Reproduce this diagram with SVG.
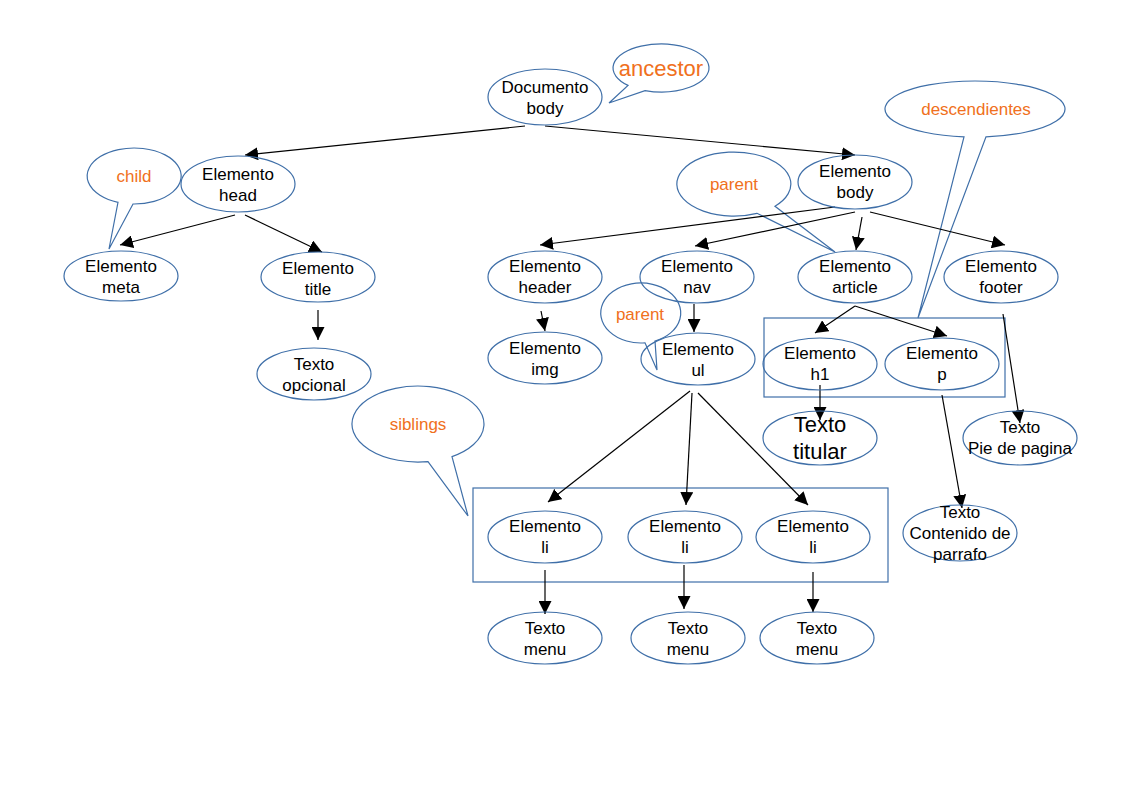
<svg xmlns="http://www.w3.org/2000/svg" width="1123" height="794" viewBox="0 0 1123 794">
<style>
.n{fill:#fff;stroke:#3f6fa8;stroke-width:1.2}
.c{fill:none;stroke:#3f6fa8;stroke-width:1.2}
.b{fill:none;stroke:#3f6fa8;stroke-width:1.2}
text{font-family:"Liberation Sans",Arial,sans-serif;font-size:17px;text-anchor:middle;fill:#000}
.o{fill:#f07020}
.e line{stroke:#000;stroke-width:1.2;marker-end:url(#a)}
</style>
<defs><marker id="a" viewBox="0 0 10 10" refX="10" refY="5" markerWidth="13" markerHeight="13" markerUnits="userSpaceOnUse" orient="auto"><path d="M0,0L10,5L0,10Z" fill="#000"/></marker></defs>
<rect width="1123" height="794" fill="#fff"/>
<g id="boxes"><rect class="b" x="764" y="318" width="241" height="79"/><rect class="b" x="473" y="488" width="415" height="94"/></g>
<g id="callouts">
<g id="c-ancestor"><path class="c" d="M628,85.4 A48,24 0 1 1 645,90.6 L609,103 Z"/><text x="661" y="76" class="o" font-size="22" style="font-size:22px">ancestor</text></g>
<g id="c-child"><path class="c" d="M118,202.3 A47,28 0 1 1 133,204 L109,249 Z"/><text x="134" y="182" class="o">child</text></g>
<g id="c-parent1"><path class="c" d="M757,213.3 A57,32 0 1 1 775,206.2 L835,252 Z"/><text x="734" y="190" class="o">parent</text></g>
<g id="c-desc"><path class="c" d="M964,136.8 A90,28 0 1 1 986,136.8 L918,318 Z"/><text x="976" y="115" class="o">descendientes</text></g>
<g id="c-siblings"><path class="c" d="M428,461.6 A66,38 0 1 1 452,456.6 L468,516 Z"/><text x="418" y="430" class="o">siblings</text></g>
<g id="c-parent2"><path class="c" d="M645,342.8 A40,30 0 1 1 655,341 L657,370 Z"/><text x="640" y="320" class="o">parent</text></g>
</g>
<g class="e" id="connectors">
<line x1="525" y1="126" x2="245" y2="155"/>
<line x1="545" y1="126" x2="855" y2="155"/>
<line x1="235" y1="215" x2="120" y2="245"/>
<line x1="245" y1="215" x2="322" y2="252"/>
<line x1="318" y1="310" x2="318" y2="340"/>
<line x1="835" y1="207" x2="540" y2="245"/>
<line x1="855" y1="212" x2="695" y2="246"/>
<line x1="862" y1="217" x2="856" y2="250"/>
<line x1="870" y1="212" x2="1005" y2="245"/>
<line x1="541" y1="311" x2="545" y2="331"/>
<line x1="694" y1="304" x2="694" y2="332"/>
<line x1="855" y1="306" x2="815" y2="333"/>
<line x1="855" y1="306" x2="947" y2="336"/>
<line x1="1003" y1="314" x2="1020" y2="423"/>
<line x1="820" y1="385" x2="820" y2="420"/>
<line x1="942" y1="395" x2="962" y2="508"/>
<line x1="690" y1="391" x2="548" y2="502"/>
<line x1="692" y1="393" x2="686" y2="505"/>
<line x1="698" y1="393" x2="808" y2="505"/>
<line x1="545" y1="570" x2="545" y2="614"/>
<line x1="684" y1="565" x2="684" y2="609"/>
<line x1="813" y1="572" x2="813" y2="612"/>
</g>
<g id="doc"><ellipse class="n" cx="545" cy="97" rx="57" ry="28" fill-opacity="0"/><text x="545" y="93">Documento</text><text x="545" y="114">body</text></g>
<g id="head"><ellipse class="n" cx="238" cy="184" rx="57" ry="28" fill-opacity="0"/><text x="238" y="180">Elemento</text><text x="238" y="201">head</text></g>
<g id="meta"><ellipse class="n" cx="121" cy="276" rx="57" ry="25" fill-opacity="0"/><text x="121" y="272">Elemento</text><text x="121" y="293">meta</text></g>
<g id="title"><ellipse class="n" cx="318" cy="277" rx="57" ry="25" fill-opacity="0"/><text x="318" y="274">Elemento</text><text x="318" y="295">title</text></g>
<g id="opcional"><ellipse class="n" cx="314" cy="374" rx="57" ry="26" fill-opacity="0"/><text x="314" y="370">Texto</text><text x="314" y="391">opcional</text></g>
<g id="ebody"><ellipse class="n" cx="855" cy="182" rx="57" ry="27" fill-opacity="0"/><text x="855" y="177">Elemento</text><text x="855" y="198">body</text></g>
<g id="header"><ellipse class="n" cx="545" cy="277" rx="57" ry="26" fill-opacity="0"/><text x="545" y="272">Elemento</text><text x="545" y="293">header</text></g>
<g id="nav"><ellipse class="n" cx="697" cy="277" rx="57" ry="26" fill-opacity="0"/><text x="697" y="272">Elemento</text><text x="697" y="293">nav</text></g>
<g id="article"><ellipse class="n" cx="855" cy="277" rx="57" ry="26" fill-opacity="0"/><text x="855" y="272">Elemento</text><text x="855" y="293">article</text></g>
<g id="footer"><ellipse class="n" cx="1001" cy="277" rx="57" ry="26" fill-opacity="0"/><text x="1001" y="272">Elemento</text><text x="1001" y="293">footer</text></g>
<g id="img"><ellipse class="n" cx="545" cy="358" rx="57" ry="26" fill-opacity="0"/><text x="545" y="354">Elemento</text><text x="545" y="375">img</text></g>
<g id="ul"><ellipse class="n" cx="698" cy="359" rx="57" ry="26" fill-opacity="0"/><text x="698" y="355">Elemento</text><text x="698" y="376">ul</text></g>
<g id="h1"><ellipse class="n" cx="820" cy="364" rx="57" ry="26" fill-opacity="0"/><text x="820" y="359">Elemento</text><text x="820" y="380">h1</text></g>
<g id="p"><ellipse class="n" cx="942" cy="364" rx="57" ry="26" fill-opacity="0"/><text x="942" y="359">Elemento</text><text x="942" y="380">p</text></g>
<g id="titular"><ellipse class="n" cx="820" cy="438" rx="57" ry="27" fill-opacity="0"/><text x="820" y="432" style="font-size:22px">Texto</text><text x="820" y="459" style="font-size:22px">titular</text></g>
<g id="pie"><ellipse class="n" cx="1020" cy="438" rx="57" ry="27" fill-opacity="0"/><text x="1020" y="433">Texto</text><text x="1020" y="454">Pie de pagina</text></g>
<g id="contenido"><ellipse class="n" cx="960" cy="533" rx="57" ry="28" fill-opacity="0"/><text x="960" y="518">Texto</text><text x="960" y="539">Contenido de</text><text x="960" y="560">parrafo</text></g>
<g id="li1"><ellipse class="n" cx="545" cy="537" rx="57" ry="26" fill-opacity="0"/><text x="545" y="532">Elemento</text><text x="545" y="553">li</text></g>
<g id="li2"><ellipse class="n" cx="685" cy="537" rx="57" ry="26" fill-opacity="0"/><text x="685" y="532">Elemento</text><text x="685" y="553">li</text></g>
<g id="li3"><ellipse class="n" cx="813" cy="537" rx="57" ry="26" fill-opacity="0"/><text x="813" y="532">Elemento</text><text x="813" y="553">li</text></g>
<g id="m1"><ellipse class="n" cx="545" cy="638" rx="57" ry="26" fill-opacity="0"/><text x="545" y="634">Texto</text><text x="545" y="655">menu</text></g>
<g id="m2"><ellipse class="n" cx="688" cy="638" rx="57" ry="26" fill-opacity="0"/><text x="688" y="634">Texto</text><text x="688" y="655">menu</text></g>
<g id="m3"><ellipse class="n" cx="817" cy="638" rx="57" ry="26" fill-opacity="0"/><text x="817" y="634">Texto</text><text x="817" y="655">menu</text></g>
</svg>
